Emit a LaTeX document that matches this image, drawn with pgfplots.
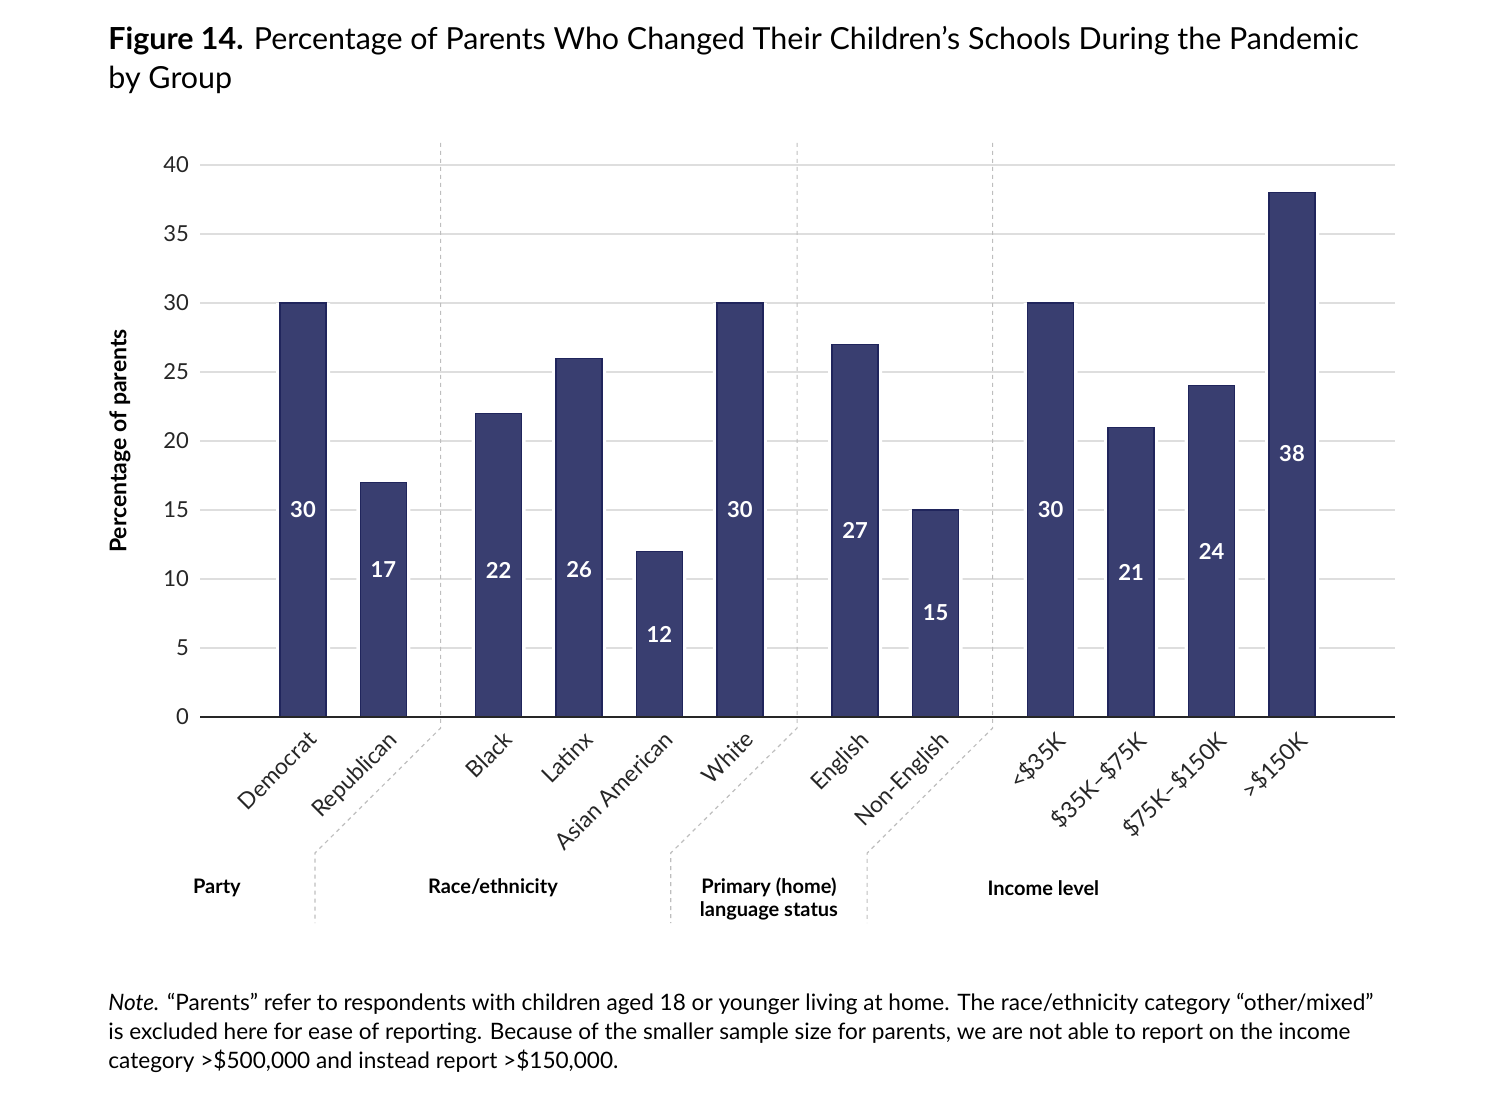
\documentclass[border=0pt]{standalone}
\usepackage{fontspec}
\setmainfont{Lato}
\usepackage{pgfplots}
\usepackage{pgfplotstable}
\pgfplotsset{compat=1.18}
\definecolor{barfill}{RGB}{57,62,112}
\definecolor{baredge}{RGB}{32,37,92}
\definecolor{gridc}{RGB}{222,222,222}
\definecolor{sepc}{RGB}{190,190,190}
\pgfplotstableread{
x y ly lab
0     30 15.0  30
1     17 10.65 17
2.43  22 10.65 22
3.43  26 10.65 26
4.43  12 6.0   12
5.43  30 15.0  30
6.86  27 13.55 27
7.86  15 7.54  15
9.29  30 15.0  30
10.29 21 10.5  21
11.29 24 12.0  24
12.29 38 19.06 38
}\datatable
\begin{document}
\begin{tikzpicture}
\useasboundingbox (0,0) rectangle (750pt,550pt);
\begin{axis}[
  at={(100pt,191.5pt)}, anchor=south west,
  scale only axis, width=597.5pt, height=276pt,
  xmin=-1.28, xmax=13.57, ymin=0, ymax=40,
  axis line style={draw=none},
  ymajorgrids, grid style={gridc, line width=0.8pt},
  ytick={0,5,...,40},
  xtick={0,1,2.43,3.43,4.43,5.43,6.86,7.86,9.29,10.29,11.29,12.29},
  xticklabels={Democrat,Republican,Black,Latinx,Asian American,White,English,Non-English,<\$35K,\$35K--\$75K,\$75K--\$150K,>\$150K},
  major tick length=0pt,
  /pgf/number format/assume math mode=true,
  yticklabel style={font=\fontsize{11}{13}\selectfont, black!85, xshift=-2pt},
  xticklabel style={font=\fontsize{11.4}{13}\selectfont, black!85, rotate=45, anchor=north east, inner sep=2pt, yshift=-3.5pt, xshift=-1pt},
  ylabel={\bfseries Percentage of parents},
  ylabel style={at={(axis description cs:-0.067,0.5)}, anchor=center, font=\fontsize{11.5}{13}\selectfont},
  clip=false,
]
\addplot[ybar, bar width=27pt, bar shift=0pt, fill=white, draw=none, forget plot] table[x=x,y=y] {\datatable};
\addplot[ybar, bar width=23pt, bar shift=0pt, fill=barfill, draw=baredge, line width=0.6pt] table[x=x,y=y] {\datatable};
\addplot[draw=none, mark=none, nodes near coords, point meta=explicit symbolic,
  every node near coord/.append style={anchor=center, text=white, font=\fontsize{11}{13}\selectfont\bfseries}]
  table[x=x,y=ly,meta=lab] {\datatable};
\draw[sepc, dash pattern=on 2pt off 2pt, line width=0.6pt] (axis cs:1.71,41.6) -- (axis cs:1.71,-0.8) -- (axis cs:0.149,-9.86) -- (axis cs:0.149,-14.93);
\draw[sepc, dash pattern=on 2pt off 2pt, line width=0.6pt] (axis cs:6.14,41.6) -- (axis cs:6.14,-0.8) -- (axis cs:4.57,-9.86) -- (axis cs:4.57,-14.93);
\draw[sepc, dash pattern=on 2pt off 2pt, line width=0.6pt] (axis cs:8.57,41.6) -- (axis cs:8.57,-0.8) -- (axis cs:7.01,-9.86) -- (axis cs:7.01,-14.93);
\draw[black!85, line width=0.8pt] (axis cs:-1.28,0) -- (axis cs:13.57,0);
\node[font=\fontsize{10}{11.5}\selectfont\bfseries] at (axis cs:-1.07,-12.39) {Party};
\node[font=\fontsize{10}{11.5}\selectfont\bfseries] at (axis cs:2.36,-12.39) {Race/ethnicity};
\node[font=\fontsize{10}{11.5}\selectfont\bfseries, align=center] at (axis cs:5.79,-13.22) {Primary (home)\\language status};
\node[font=\fontsize{10}{11.5}\selectfont\bfseries] at (axis cs:9.20,-12.39) {Income level};
\end{axis}
\node[anchor=base west, inner sep=0pt, font=\fontsize{15.2}{18}\selectfont] at (54pt,525pt) {\textbf{Figure 14.} Percentage of Parents Who Changed Their Children’s Schools During the Pandemic};
\node[anchor=base west, inner sep=0pt, font=\fontsize{15.2}{18}\selectfont] at (54pt,505.5pt) {by Group};
\node[anchor=base west, inner sep=0pt, font=\fontsize{11.3}{14}\selectfont] at (54pt,45pt) {\textit{Note.} “Parents” refer to respondents with children aged 18 or younger living at home. The race/ethnicity category “other/mixed”};
\node[anchor=base west, inner sep=0pt, font=\fontsize{11.3}{14}\selectfont] at (54pt,30.5pt) {is excluded here for ease of reporting. Because of the smaller sample size for parents, we are not able to report on the income};
\node[anchor=base west, inner sep=0pt, font=\fontsize{11.3}{14}\selectfont] at (54pt,16pt) {category >\$500,000 and instead report >\$150,000.};
\end{tikzpicture}
\end{document}
